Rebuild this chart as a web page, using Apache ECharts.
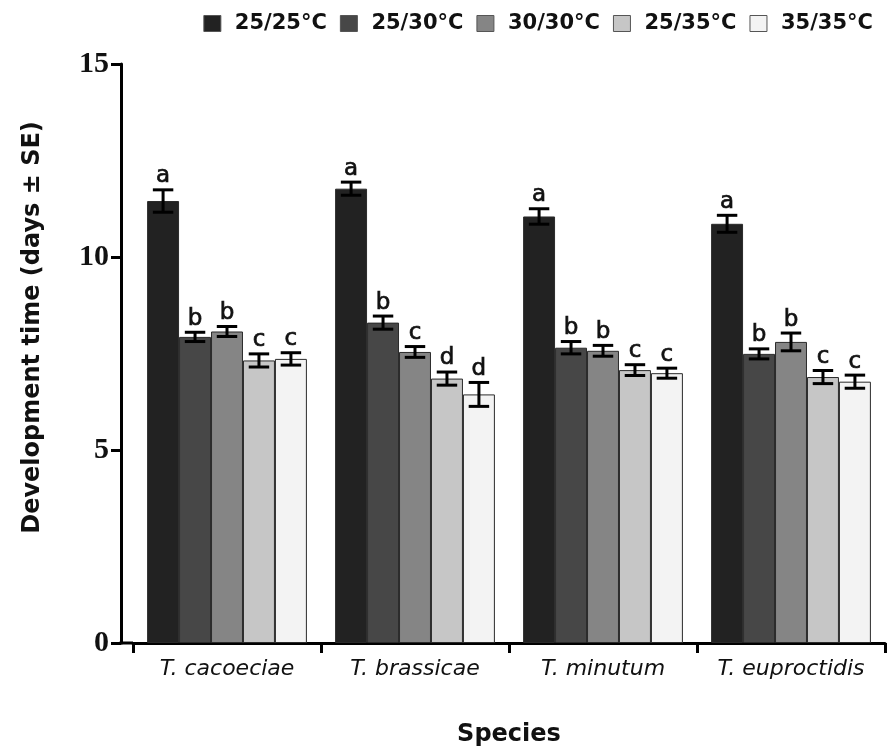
<!DOCTYPE html>
<html>
<head>
<meta charset="utf-8">
<script src="https://cdn.jsdelivr.net/npm/echarts@6/dist/echarts.min.js"></script>
<style>html,body{margin:0;padding:0;background:#fff}#c{width:896px;height:754px}</style>
</head>
<body>
<div id="c"></div>
<script>
const categories = ['T. cacoeciae', 'T. brassicae', 'T. minutum', 'T. euproctidis'];
const seriesNames = ['25/25°C', '25/30°C', '30/30°C', '25/35°C', '35/35°C'];
const colors = ['#222222', '#474747', '#858585', '#c6c6c6', '#f3f3f3'];
const v2525 = [11.45, 11.77, 11.05, 10.86];
const v2530 = [7.93, 8.30, 7.65, 7.49];
const v3030 = [8.07, 7.54, 7.57, 7.80];
const v2535 = [7.32, 6.85, 7.07, 6.89];
const v3535 = [7.36, 6.44, 6.99, 6.77];
const e2525 = [0.29, 0.17, 0.20, 0.22];
const e2530 = [0.12, 0.17, 0.16, 0.13];
const e3030 = [0.13, 0.14, 0.14, 0.23];
const e2535 = [0.17, 0.17, 0.14, 0.17];
const e3535 = [0.16, 0.31, 0.13, 0.17];
const l2525 = ['a', 'a', 'a', 'a'];
const l2530 = ['b', 'b', 'b', 'b'];
const l3030 = ['b', 'c', 'b', 'b'];
const l2535 = ['c', 'd', 'c', 'c'];
const l3535 = ['c', 'd', 'c', 'c'];
const yTicks = [0, 5, 10, 15];

const values = [v2525, v2530, v3030, v2535, v3535];
const errors = [e2525, e2530, e3030, e2535, e3535];
const letters = [l2525, l2530, l3030, l2535, l3535];

const CAT_GAP = 0.15;
const GRID_LEFT = 133, Y_OFFSET = 12;
const errData = [];
values.forEach((arr, s) => arr.forEach((v, c) => errData.push([c, v, errors[s][c], s, letters[s][c]])));

const chart = echarts.init(document.getElementById('c'));
const barSeries = seriesNames.map((n, i) => ({
  name: n, type: 'bar', data: values[i], barGap: '0%', barCategoryGap: (CAT_GAP * 100) + '%',
  itemStyle: { color: colors[i], borderColor: '#2a2a2a', borderWidth: 1 },
  emphasis: { disabled: true }, z: 2
}));
chart.setOption({
  animation: false,
  backgroundColor: '#fff',
  legend: {
    top: 8, right: 18, itemWidth: 17, itemHeight: 16, itemGap: 13,
    icon: 'rect',
    textStyle: { fontFamily: 'DejaVu Sans', fontWeight: 'bold', fontSize: 21, color: '#111', padding: [0, 0, 0, 9] },
    data: seriesNames.map((n, i) => ({ name: n, itemStyle: { borderColor: '#555', borderWidth: 1 } }))
  },
  grid: { left: GRID_LEFT, right: 11, top: 64, bottom: 111, containLabel: false },
  xAxis: {
    type: 'category', data: categories,
    axisLine: { lineStyle: { color: '#000', width: 3 } },
    axisTick: { show: true, interval: 0, length: 10, lineStyle: { color: '#000', width: 3 } },
    axisLabel: { interval: 0, fontFamily: 'DejaVu Sans', fontStyle: 'italic', fontSize: 22, color: '#111', margin: 15 },
    name: 'Species', nameLocation: 'middle', nameGap: 80,
    nameTextStyle: { fontFamily: 'DejaVu Sans', fontWeight: 'bold', fontSize: 24, color: '#111' }
  },
  yAxis: {
    type: 'value', min: 0, max: 15, interval: 5, offset: Y_OFFSET,
    axisLine: { show: true, lineStyle: { color: '#000', width: 3 } },
    axisTick: { show: true, length: 10, lineStyle: { color: '#000', width: 3 } },
    splitLine: { show: false },
    axisLabel: { fontFamily: 'Liberation Serif', fontWeight: 'bold', fontSize: 30, color: '#111', margin: 12,
      formatter: v => yTicks.includes(v) ? String(v) : '' },
    name: 'Development time (days ± SE)', nameLocation: 'middle', nameGap: 76,
    nameTextStyle: { fontFamily: 'DejaVu Sans', fontWeight: 'bold', fontSize: 24, color: '#111', padding: [0, 0, 0, 52] }
  },
  series: barSeries.concat([{
    type: 'custom', data: errData, z: 5, silent: true,
    encode: { x: 0, y: 1 },
    renderItem: (params, api) => {
      const c = api.value(0), v = api.value(1), e = api.value(2), s = api.value(3);
      const letter = errData[params.dataIndex][4];
      const band = api.size([1, 0])[0];
      const bw = band * (1 - CAT_GAP) / seriesNames.length;
      const base = api.coord([c, v]);
      const x = base[0] + (s - 2) * bw;
      const top = api.coord([c, v + e])[1];
      const bot = api.coord([c, v - e])[1];
      const cap = bw * 0.32;
      const st = { stroke: '#000', lineWidth: 3 };
      return { type: 'group', children: [
        { type: 'line', shape: { x1: x, y1: top, x2: x, y2: bot }, style: st },
        { type: 'line', shape: { x1: x - cap, y1: top, x2: x + cap, y2: top }, style: st },
        { type: 'line', shape: { x1: x - cap, y1: bot, x2: x + cap, y2: bot }, style: st },
        { type: 'text', x: x, y: top - 2, style: { text: letter, textAlign: 'center', textVerticalAlign: 'bottom',
          fontFamily: 'DejaVu Sans', fontWeight: 'normal', fontSize: 23, fill: '#111', stroke: '#111', lineWidth: 0.7 } }
      ] };
    }
  }])
});
// extend the x axis line to meet the offset y axis
const y0 = chart.convertToPixel({ yAxisIndex: 0 }, 0);
chart.setOption({ graphic: [{ type: 'line', silent: true, z: 10,
  shape: { x1: GRID_LEFT - Y_OFFSET - 1.5, y1: y0, x2: GRID_LEFT, y2: y0 },
  style: { stroke: '#000', lineWidth: 3 } }] });
</script>
</body>
</html>
